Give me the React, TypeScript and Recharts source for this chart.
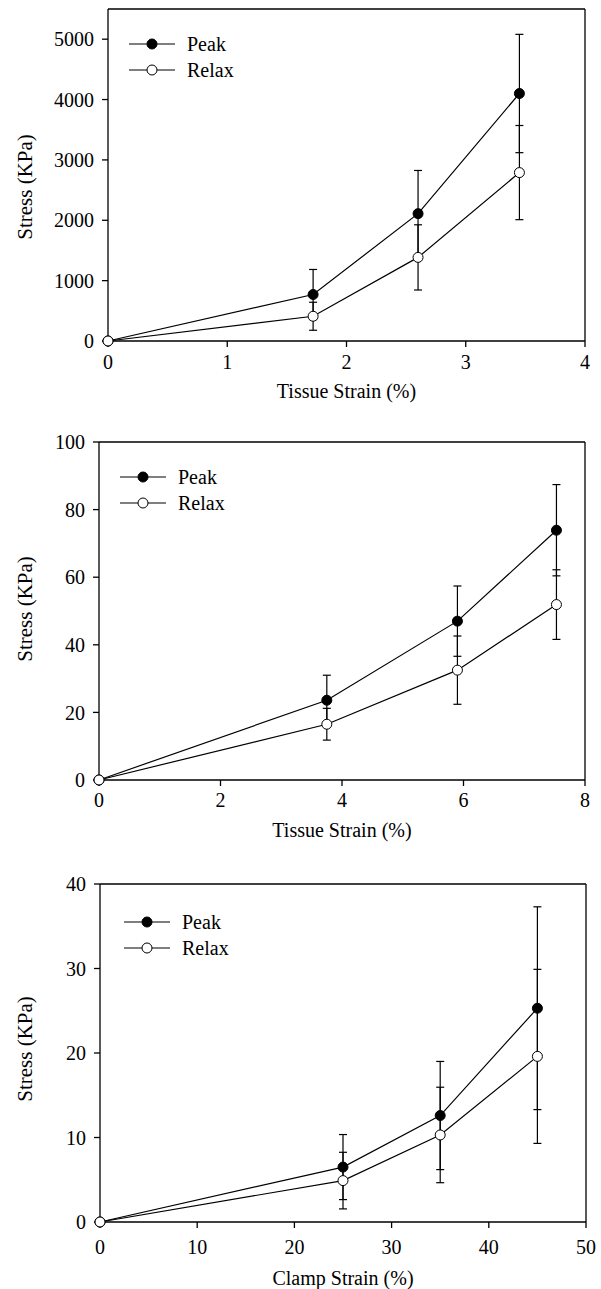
import { LineChart, Line, XAxis, YAxis, ErrorBar, ReferenceLine, Legend } from "recharts";

// panel A: tissue strain vs stress (KPa)
const strainA = [0, 1.72, 2.6, 3.45];
const peakA = [0, 770, 2110, 4100];
const peakErrA = [0, 415, 715, 980];
const relaxA = [0, 410, 1385, 2790];
const relaxErrA = [0, 232, 540, 780];
const xTicksA = [0, 1, 2, 3, 4];
const yTicksA = [0, 1000, 2000, 3000, 4000, 5000];

// panel B
const strainB = [0, 3.75, 5.9, 7.53];
const peakB = [0, 23.6, 47.0, 73.9];
const peakErrB = [0, 7.4, 10.4, 13.5];
const relaxB = [0, 16.5, 32.5, 51.9];
const relaxErrB = [0, 4.7, 10.1, 10.3];
const xTicksB = [0, 2, 4, 6, 8];
const yTicksB = [0, 20, 40, 60, 80, 100];

// panel C: clamp strain
const strainC = [0, 25, 35, 45];
const peakC = [0, 6.5, 12.6, 25.3];
const peakErrC = [0, 3.85, 6.4, 12.0];
const relaxC = [0, 4.9, 10.3, 19.6];
const relaxErrC = [0, 3.35, 5.65, 10.3];
const xTicksC = [0, 10, 20, 30, 40, 50];
const yTicksC = [0, 10, 20, 30, 40];

const seriesNames = ["Peak", "Relax"];

const FONT = "'Liberation Serif', 'Times New Roman', serif";
const tickStyle = { fontFamily: FONT, fontSize: 20, fill: "#000", stroke: "none" };

function makeRows(x: number[], p: number[], pe: number[], r: number[], re: number[]) {
  return x.map((v, i) => ({ x: v, peak: p[i], peakErr: pe[i], relax: r[i], relaxErr: re[i] }));
}

function LegendBox() {
  return (
    <div style={{ fontFamily: FONT, fontSize: 20, color: "#000", lineHeight: "26px" }}>
      {seriesNames.map((name, i) => (
        <div key={name} style={{ display: "flex", alignItems: "center", height: 26 }}>
          <svg width={46} height={26}>
            <line x1={0} y1={13} x2={46} y2={13} stroke="#000" strokeWidth={1.2} />
            <circle cx={23} cy={13} r={5} fill={i === 0 ? "#000" : "#fff"} stroke="#000" strokeWidth={1} />
          </svg>
          <span style={{ marginLeft: 12 }}>{name}</span>
        </div>
      ))}
    </div>
  );
}

type PanelProps = {
  top: number;
  height: number;
  marginTop: number;
  marginRight: number;
  yWidth: number;
  xHeight: number;
  rows: ReturnType<typeof makeRows>;
  xMax: number;
  yMax: number;
  xTicks: number[];
  yTicks: number[];
  xTitle: string;
  xTickMargin: number;
  xTitleOffset: number;
  yTitleShift: number;
  legendLeft: number;
  legendTop: number;
};

function Panel(p: PanelProps) {
  const yTitle = (props: any) => {
    const vb = props.viewBox || {};
    const cx = 25;
    const cy = (vb.y ?? 0) + (vb.height ?? 0) / 2 + p.yTitleShift;
    return (
      <text
        x={cx}
        y={cy}
        transform={`rotate(-90, ${cx}, ${cy})`}
        textAnchor="middle"
        dominantBaseline="central"
        fontFamily={FONT}
        fontSize={21}
        fill="#000"
      >
        Stress (KPa)
      </text>
    );
  };

  return (
    <div style={{ position: "absolute", left: 0, top: p.top, width: 601, height: p.height }}>
      <LineChart
        width={601}
        height={p.height}
        data={p.rows}
        margin={{ top: p.marginTop, right: p.marginRight, left: 0, bottom: 0 }}
        style={{ fontFamily: FONT }}
      >
        <XAxis
          type="number"
          dataKey="x"
          domain={[0, p.xMax]}
          ticks={p.xTicks}
          height={p.xHeight}
          tick={tickStyle}
          tickSize={6}
          tickMargin={p.xTickMargin}
          stroke="#000"
          strokeWidth={1.3}
          label={{
            value: p.xTitle,
            position: "insideBottom",
            offset: p.xTitleOffset,
            style: { fontFamily: FONT, fontSize: 20, fill: "#000", stroke: "none" },
          }}
        />
        <YAxis
          type="number"
          domain={[0, p.yMax]}
          ticks={p.yTicks}
          width={p.yWidth}
          tick={tickStyle}
          tickSize={6}
          tickMargin={8}
          stroke="#000"
          strokeWidth={1.3}
          label={{ content: yTitle }}
        />
        <ReferenceLine y={p.yMax} stroke="#000" strokeWidth={1.3} />
        <ReferenceLine x={p.xMax} stroke="#000" strokeWidth={1.3} />
        <Legend
          layout="vertical"
          align="center"
          verticalAlign="middle"
          content={() => <LegendBox />}
          wrapperStyle={{ left: p.legendLeft, top: p.legendTop, width: "auto" }}
        />
        <Line
          dataKey="peak"
          name="Peak"
          stroke="#000"
          strokeWidth={1.2}
          dot={{ r: 5, fill: "#000", stroke: "#000", strokeWidth: 1 }}
          isAnimationActive={false}
        >
          <ErrorBar dataKey="peakErr" direction="y" width={4} stroke="#000" strokeWidth={1.2} />
        </Line>
        <Line
          dataKey="relax"
          name="Relax"
          stroke="#000"
          strokeWidth={1.2}
          dot={{ r: 5, fill: "#fff", stroke: "#000", strokeWidth: 1 }}
          isAnimationActive={false}
        >
          <ErrorBar dataKey="relaxErr" direction="y" width={4} stroke="#000" strokeWidth={1.2} />
        </Line>
      </LineChart>
    </div>
  );
}

export default function App() {
  return (
    <div style={{ position: "absolute", left: 0, top: 0, width: 601, height: 1289, background: "#fff" }}>
      <Panel
        top={0}
        height={420}
        marginTop={9}
        marginRight={16}
        yWidth={108}
        xHeight={79}
        rows={makeRows(strainA, peakA, peakErrA, relaxA, relaxErrA)}
        xMax={4}
        yMax={5500}
        xTicks={xTicksA}
        yTicks={yTicksA}
        xTitle="Tissue Strain (%)"
        xTickMargin={8}
        xTitleOffset={22}
        yTitleShift={12}
        legendLeft={129}
        legendTop={31}
      />
      <Panel
        top={420}
        height={440}
        marginTop={22}
        marginRight={16}
        yWidth={99}
        xHeight={80}
        rows={makeRows(strainB, peakB, peakErrB, relaxB, relaxErrB)}
        xMax={8}
        yMax={100}
        xTicks={xTicksB}
        yTicks={yTicksB}
        xTitle="Tissue Strain (%)"
        xTickMargin={7}
        xTitleOffset={23}
        yTitleShift={-2}
        legendLeft={120}
        legendTop={44}
      />
      <Panel
        top={860}
        height={429}
        marginTop={24}
        marginRight={15}
        yWidth={100}
        xHeight={67}
        rows={makeRows(strainC, peakC, peakErrC, relaxC, relaxErrC)}
        xMax={50}
        yMax={40}
        xTicks={xTicksC}
        yTicks={yTicksC}
        xTitle="Clamp Strain (%)"
        xTickMargin={12}
        xTitleOffset={4}
        yTitleShift={-4}
        legendLeft={124}
        legendTop={49}
      />
    </div>
  );
}
